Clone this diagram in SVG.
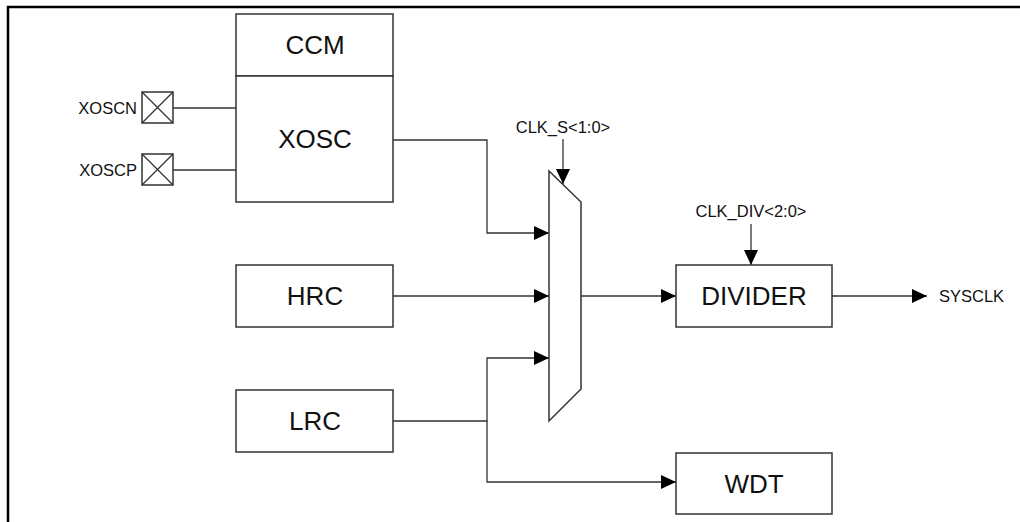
<svg xmlns="http://www.w3.org/2000/svg" width="1020" height="522" viewBox="0 0 1020 522">
  <defs>
    <style>
      .box { fill: #fff; stroke: #333; stroke-width: 1.5; }
      .wire { fill: none; stroke: #333; stroke-width: 1.3; }
      .big { font-family: "Liberation Sans", Arial, sans-serif; font-size: 26px; fill: #111; text-anchor: middle; }
      .small { font-family: "Liberation Sans", Arial, sans-serif; font-size: 16.5px; fill: #111; }
      .frame { fill: none; stroke: #000; stroke-width: 2.5; }
    </style>
    <marker id="arr" markerUnits="userSpaceOnUse" markerWidth="18" markerHeight="16" refX="15" refY="7" orient="auto">
      <path d="M0,0 L15,7 L0,14 Z" fill="#000"/>
    </marker>
  </defs>

  <g id="frame">
    <path class="frame" d="M8,522 L8,7 L1020,7"/>
  </g>

  <g id="connectors">
    <line class="wire" x1="173" y1="108" x2="236" y2="108"/>
    <line class="wire" x1="173" y1="170" x2="236" y2="170"/>
    <path class="wire" d="M393,140 L487,140 L487,233 L549,233" marker-end="url(#arr)"/>
    <path class="wire" d="M393,296 L549,296" marker-end="url(#arr)"/>
    <path class="wire" d="M393,421 L487,421 L487,358 L549,358" marker-end="url(#arr)"/>
    <path class="wire" d="M487,421 L487,482 L676,482" marker-end="url(#arr)"/>
    <path class="wire" d="M563,139 L563,184" marker-end="url(#arr)"/>
    <path class="wire" d="M581,296 L676,296" marker-end="url(#arr)"/>
    <path class="wire" d="M751,224 L751,265" marker-end="url(#arr)"/>
    <path class="wire" d="M832,296 L927,296" marker-end="url(#arr)"/>
  </g>

  <g id="pad-xoscn">
    <rect class="box" x="142" y="92" width="31" height="31"/>
    <path class="wire" d="M142,92 L173,123 M173,92 L142,123"/>
    <text class="small" x="137" y="114" text-anchor="end">XOSCN</text>
  </g>

  <g id="pad-xoscp">
    <rect class="box" x="142" y="154" width="31" height="31"/>
    <path class="wire" d="M142,154 L173,185 M173,154 L142,185"/>
    <text class="small" x="137" y="176" text-anchor="end">XOSCP</text>
  </g>

  <g id="ccm">
    <rect class="box" x="236" y="14" width="157" height="62"/>
    <text class="big" x="315" y="54">CCM</text>
  </g>

  <g id="xosc">
    <rect class="box" x="236" y="76" width="157" height="126"/>
    <text class="big" x="315" y="148">XOSC</text>
  </g>

  <g id="hrc">
    <rect class="box" x="236" y="265" width="157" height="62"/>
    <text class="big" x="315" y="305">HRC</text>
  </g>

  <g id="lrc">
    <rect class="box" x="236" y="390" width="157" height="62"/>
    <text class="big" x="315" y="430">LRC</text>
  </g>

  <g id="mux">
    <polygon class="box" points="549,171 581,202 581,389 549,421"/>
    <text class="small" x="563" y="133" text-anchor="middle">CLK_S&lt;1:0&gt;</text>
  </g>

  <g id="divider">
    <rect class="box" x="676" y="265" width="156" height="62"/>
    <text class="big" x="754" y="305">DIVIDER</text>
    <text class="small" x="751" y="217" text-anchor="middle">CLK_DIV&lt;2:0&gt;</text>
  </g>

  <g id="sysclk">
    <text class="small" x="939" y="302">SYSCLK</text>
  </g>

  <g id="wdt">
    <rect class="box" x="676" y="453" width="156" height="61"/>
    <text class="big" x="754" y="493">WDT</text>
  </g>
</svg>
